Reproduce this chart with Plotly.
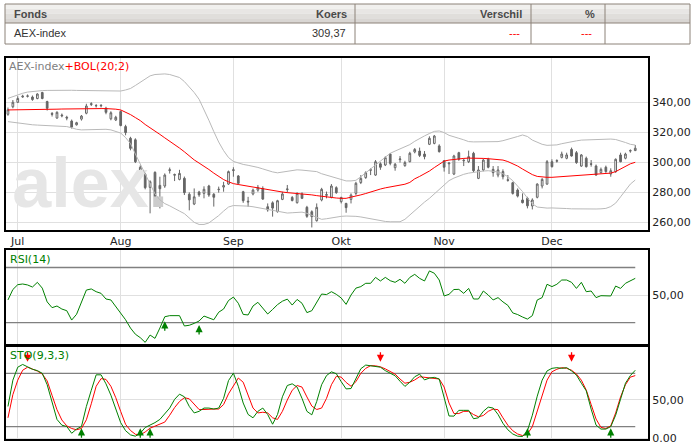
import plotly.graph_objects as go

# ---------------- data ----------------
month_labels = ["Jul", "Aug", "Sep", "Okt", "Nov", "Dec"]
month_start_idx = [2, 23, 46, 68, 89, 111]

open_ = [332.0, 337.0, 340.0, 343.5, 344.0, 343.5, 342.5, 346.5, 340.5, 332.5,
         329.5, 331.5, 330.0, 327.5, 325.0, 328.8, 332.7, 338.5, 337.6, 337.6,
         336.0, 329.0, 328.2, 333.8, 323.8, 316.0, 315.0, 292.6, 292.0, 283.3,
         293.3, 284.6, 284.2, 294.5, 291.8, 288.6, 289.3, 278.7, 272.2, 280.2,
         279.3, 284.2, 278.7, 281.8, 283.5, 285.5, 294.5, 290.9, 280.4, 273.5,
         278.9, 281.5, 282.6, 270.4, 273.0, 267.1, 275.3, 281.8, 276.6, 273.1,
         278.9, 270.0, 267.1, 261.1, 274.9, 278.0, 276.7, 283.1, 273.8, 272.6,
         275.3, 279.3, 286.5, 289.8, 294.7, 291.5, 299.0, 298.2, 305.5, 296.4,
         301.8, 297.8, 300.4, 306.9, 307.5, 305.5, 312.0, 312.6, 310.9, 301.1,
         299.0, 292.2, 306.4, 301.0, 300.4, 306.0, 289.3, 294.9, 302.0, 295.3,
         291.5, 293.8, 288.4, 286.4, 281.5, 274.9, 276.0, 270.9, 276.7, 284.2,
         285.5, 300.4, 300.7, 303.3, 302.7, 308.6, 306.4, 297.5, 302.7, 299.0,
         297.5, 293.1, 296.7, 292.2, 293.8, 304.9, 302.7, 307.5, 307.8]
high = [336.5, 341.5, 344.0, 345.0, 345.2, 344.5, 346.0, 347.0, 341.0, 333.5,
        334.0, 332.5, 331.0, 328.5, 327.0, 331.5, 339.0, 340.0, 338.8, 338.8,
        337.0, 334.0, 331.0, 334.5, 325.0, 317.0, 316.0, 298.0, 293.0, 288.0,
        294.0, 290.4, 292.6, 296.5, 292.5, 295.0, 290.5, 280.0, 282.6, 281.0,
        284.0, 285.0, 279.5, 283.8, 287.0, 294.5, 296.7, 291.5, 281.0, 277.0,
        282.5, 284.9, 284.0, 272.6, 274.0, 275.0, 280.4, 284.9, 277.5, 280.0,
        280.0, 271.0, 268.0, 272.6, 283.0, 280.5, 285.5, 284.0, 277.0, 273.0,
        279.3, 287.0, 291.5, 294.0, 296.0, 301.5, 300.0, 304.0, 306.0, 299.5,
        304.2, 301.0, 307.0, 309.5, 309.8, 307.5, 317.3, 318.2, 312.0, 301.5,
        300.0, 305.0, 307.0, 302.6, 307.8, 307.0, 297.5, 302.5, 303.0, 297.5,
        297.5, 295.3, 291.5, 287.0, 282.6, 279.3, 277.0, 276.0, 286.0, 289.5,
        301.5, 302.0, 302.0, 307.1, 306.4, 309.8, 307.5, 305.5, 303.8, 301.5,
        298.5, 296.5, 297.8, 296.0, 302.6, 306.4, 306.4, 308.6, 311.5]
low = [331.0, 336.0, 339.5, 343.0, 343.2, 341.0, 342.0, 342.0, 334.5, 330.5,
       329.0, 330.0, 328.0, 322.5, 324.5, 327.8, 332.0, 337.5, 336.5, 336.6,
       332.0, 328.0, 327.5, 324.0, 318.0, 308.0, 299.5, 292.0, 282.0, 266.0,
       275.0, 269.3, 283.0, 292.5, 287.5, 288.0, 278.2, 268.0, 271.5, 277.0,
       276.0, 277.0, 270.5, 279.8, 280.4, 285.0, 290.4, 285.0, 273.0, 270.4,
       278.0, 280.4, 275.0, 267.1, 263.8, 266.5, 274.8, 279.8, 274.0, 272.5,
       275.5, 263.0, 256.6, 260.5, 274.0, 276.0, 276.0, 279.0, 272.6, 266.4,
       272.6, 278.0, 285.5, 289.0, 291.5, 291.0, 295.0, 297.5, 298.0, 294.4,
       299.8, 297.0, 300.0, 306.0, 303.5, 302.0, 311.5, 312.0, 306.5, 293.8,
       292.2, 291.5, 301.0, 297.5, 299.5, 293.5, 288.8, 294.0, 296.0, 290.4,
       290.0, 288.6, 287.1, 278.5, 276.6, 272.6, 269.3, 268.6, 276.0, 282.6,
       285.0, 296.5, 299.8, 302.6, 302.0, 303.8, 299.0, 297.0, 296.5, 297.1,
       291.0, 292.6, 293.0, 290.4, 293.0, 300.0, 302.0, 306.4, 307.5]
close = [335.0, 340.0, 342.5, 344.0, 344.2, 341.8, 345.5, 342.5, 336.0, 332.0,
         333.3, 331.0, 329.5, 323.5, 326.4, 330.8, 337.5, 339.0, 337.8, 337.9,
         333.3, 333.0, 330.0, 324.5, 319.8, 309.3, 300.4, 296.7, 283.1, 287.1,
         277.1, 282.4, 291.5, 295.0, 291.5, 292.6, 279.8, 275.0, 277.0, 278.3,
         282.0, 278.2, 276.7, 282.0, 284.5, 293.8, 295.0, 286.0, 274.4, 274.0,
         281.5, 283.3, 275.5, 268.3, 269.5, 274.4, 278.9, 282.2, 274.5, 279.3,
         276.0, 264.0, 263.8, 270.0, 282.0, 278.5, 284.2, 279.8, 276.6, 269.8,
         278.2, 286.0, 289.3, 293.1, 295.0, 300.4, 296.7, 303.1, 299.3, 298.7,
         302.2, 299.8, 306.0, 308.6, 304.6, 303.8, 316.0, 317.5, 307.1, 296.7,
         299.5, 304.2, 302.0, 301.3, 303.8, 294.4, 294.9, 301.5, 296.7, 293.1,
         294.9, 290.4, 288.0, 279.3, 277.5, 273.1, 271.0, 274.9, 285.5, 288.6,
         300.4, 297.1, 301.1, 305.5, 304.9, 304.2, 299.8, 304.9, 297.1, 298.7,
         291.5, 295.3, 293.8, 294.4, 302.0, 300.4, 305.5, 307.8, 309.37]

bol_mid = [334.9, 334.9, 335.0, 335.0, 335.1, 335.2, 335.3, 335.3, 335.4, 335.4, 335.4,
           335.5, 335.6, 335.7, 335.8, 335.8, 335.8, 335.8, 335.8, 335.8, 335.8, 335.7, 335.4,
           334.9, 333.5, 331.8, 329.8, 327.8, 325.2, 322.8, 320.5, 318.6, 316.3, 314.2,
           312.0, 309.5, 307.0, 304.2, 301.6, 299.5, 297.5, 295.2, 292.8, 290.5, 288.5, 287.0, 285.8, 285.2,
           284.6, 284.2, 283.8, 283.2, 282.6, 282.0, 281.4, 280.8, 280.2, 279.8, 279.6, 279.4, 279.2, 278.8,
           278.3, 277.8, 277.3,
           276.9, 276.5, 276.2, 276.0, 276.0, 276.8, 277.4, 278.3, 279.2, 280.2, 281.6, 282.2, 283.0, 283.6,
           284.2, 284.8, 285.4, 286.6, 289.0, 290.6, 292.2, 294.2, 296.5, 298.8,
           300.8, 301.5, 302.0, 302.4, 302.6, 302.8, 302.9, 302.8, 302.6, 302.4,
           302.1, 301.8, 301.5, 300.5, 299.2, 297.5, 295.5, 293.5, 291.8, 290.6, 290.2, 290.0,
           290.0, 290.2, 290.6, 290.9, 291.1, 291.3, 291.5, 291.6, 291.8, 292.0, 292.2, 292.4, 292.8,
           293.8, 295.5, 297.3, 299.0, 300.0]
bol_upper = [342.6, 343.8, 345.0, 346.0, 346.8, 347.3, 347.6, 347.8, 347.9, 348.0, 348.0, 348.0,
             348.0, 348.0, 347.9, 347.8, 347.7, 347.6, 347.5, 347.5, 347.4, 347.4, 347.4, 347.5,
             348.2, 349.2, 351.2, 353.2, 355.4, 357.6, 358.5, 358.9, 358.9, 358.5, 357.6, 356.5,
             353.8, 350.5, 346.5, 342.0, 335.5, 328.0, 320.5, 313.5, 307.8, 303.2, 300.6, 299.4,
             298.6, 298.0, 297.4, 296.6, 295.6, 294.4, 293.6, 293.0, 293.4, 294.0, 294.6, 295.0,
             294.8, 294.6, 294.4, 293.8, 292.4, 291.4, 290.6, 289.6, 288.6, 287.6, 287.6, 288.0,
             290.4, 293.0, 295.6, 298.2, 301.0, 304.0, 306.0, 307.5, 309.0, 310.2, 311.8, 314.0,
             316.0, 317.6, 319.2, 320.6, 320.9, 319.8, 318.0, 316.8, 316.0, 315.0, 313.8, 313.6,
             313.6, 313.6, 313.6, 313.6, 313.8, 314.4, 315.2, 316.2, 317.2, 318.2, 317.2, 314.8,
             313.2, 312.0, 311.3, 311.2, 311.6, 312.4, 313.2, 313.8, 314.3, 314.8, 315.0, 315.1,
             315.2, 315.3, 315.4, 315.5, 315.2, 314.4, 313.2, 312.0, 311.5]
bol_lower = [327.1, 326.6, 326.1, 325.7, 325.3, 325.0, 324.8, 324.6, 324.4, 324.2, 324.0, 323.9,
             323.8, 323.0, 322.0, 321.6, 321.7, 321.9, 322.1, 322.2, 322.0, 321.6, 320.8, 319.5,
             316.5, 312.5, 305.5, 299.0, 292.0, 285.0, 279.0, 275.0, 272.5, 271.0, 269.5, 267.5,
             265.8, 263.0, 260.0, 258.6, 258.6, 259.6, 262.0, 264.5, 267.5, 270.2, 271.2, 271.2,
             271.0, 270.8, 270.4, 269.8, 269.0, 268.4, 267.8, 267.3, 266.5, 266.2, 266.4, 266.8,
             266.8, 266.0, 264.8, 263.2, 262.0, 262.4, 263.0, 263.6, 264.0, 264.2, 264.2, 264.0,
             263.6, 263.0, 262.4, 261.6, 261.0, 260.6, 260.4, 260.4, 260.4, 262.0, 265.0, 268.0,
             271.0, 273.5, 276.0, 279.0, 282.0, 285.0, 287.8, 289.5, 291.0, 292.0, 292.8, 293.4,
             293.8, 294.2, 294.4, 294.2, 293.6, 292.4, 290.4, 287.8, 284.5, 280.5, 276.2, 272.4,
             270.2, 269.6, 269.5, 269.6, 269.6, 269.4, 269.2, 269.0, 268.9, 268.9, 268.9, 268.9,
             268.9, 269.0, 269.3, 270.5, 272.8, 277.0, 281.5, 285.5, 288.2]

rsi = [46.4, 54.0, 57.5, 58.0, 57.3, 55.8, 59.2, 55.0, 45.0, 40.8,
       42.0, 39.8, 38.6, 31.8, 36.0, 45.0, 53.6, 54.4, 52.4, 51.2,
       47.1, 46.4, 41.5, 36.0, 32.0, 26.0, 21.5, 19.0, 15.6, 20.9,
       18.5, 26.0, 34.2, 35.0, 35.0, 35.0, 27.5, 28.0, 29.4, 31.1,
       34.7, 33.5, 32.0, 37.5, 39.8, 46.0, 48.5, 44.0, 35.9, 35.5,
       42.0, 44.7, 40.0, 36.2, 39.5, 43.0, 45.5, 47.0, 42.7, 46.8,
       44.0, 37.2, 38.6, 44.5, 50.7, 50.3, 52.4, 50.5, 47.8, 43.2,
       50.0, 55.0, 56.1, 58.5, 58.5, 62.8, 60.2, 62.8, 60.4, 59.2,
       61.4, 58.5, 62.8, 65.0, 62.1, 60.2, 67.5, 65.8, 60.9, 49.3,
       50.5, 54.0, 54.1, 51.2, 54.8, 47.1, 47.1, 52.9, 50.0, 46.4,
       48.1, 45.0, 42.5, 37.0, 35.8, 34.0, 32.5, 35.0, 46.4, 48.1,
       57.8, 56.1, 57.8, 60.9, 60.9, 59.2, 54.8, 59.2, 52.4, 52.9,
       48.1, 49.5, 49.3, 49.3, 56.5, 54.8, 58.5, 60.2, 62.1]
rsi_levels = [70, 30]
rsi_buy_idx = [32, 39]
rsi_buy_tip = [30.9, 28.2]

sto_k = [41.5, 76, 93, 96.6, 93.5, 90.3, 88.5, 85, 70, 46,
         24.5, 16.9, 15.2, 6.3, 11.8, 15.2, 41.5, 62.7, 83, 83,
         71.2, 56.3, 39.4, 20.3, 9.7, 4.2, 2.5, 6.3, 13.9, 16.9,
         20.3, 24.5, 32, 39.4, 50.8, 57.6, 54.2, 41.5, 33, 35.1,
         39.4, 39.4, 38.1, 39.4, 52.1, 75.4, 85.2, 68, 46, 31,
         26.6, 35.1, 39.4, 30.9, 18.2, 30.9, 54.2, 69, 71.2, 66.9,
         52.1, 35.1, 30.5, 48, 70, 82, 86.9, 84.5, 74, 64.5,
         65, 78, 91, 95.8, 94.8, 94.5, 93, 88.5, 85, 81.8,
         74.6, 67.8, 73.3, 80.5, 83.9, 76.3, 78.8, 79.7, 77.5, 52,
         29, 28.8, 36.4, 36.4, 36.4, 25.4, 26.6, 35.1, 40.6, 39.4,
         31, 19.4, 10.9, 5.4, 2.5, 2.1, 9.7, 30, 55, 76,
         88.1, 91.5, 92.4, 91.5, 92.4, 88.1, 82.6, 72, 62, 38,
         17, 11.8, 11.8, 15, 30, 51, 72, 82, 89]
sto_d = [26.6, 57, 76, 89, 93, 91, 88, 84, 75, 56,
         37.2, 23.7, 16, 12.6, 10.9, 12.6, 24, 45, 68, 78,
         77, 68, 53, 35, 18, 10, 5, 4.2, 8, 13,
         16, 18.2, 21, 30, 40, 48, 53, 51.5, 44, 37.5,
         37.5, 38.1, 38.1, 38.1, 44, 58, 69, 78.8, 73.3, 56.3,
         39.4, 33, 33.9, 33, 26.6, 24.5, 35.1, 50, 62.7, 69,
         66.9, 54, 42, 37.5, 39.4, 52.1, 70, 81, 80, 73,
         68, 74, 85, 91.5, 95, 94.8, 93.5, 90.8, 87, 83.9,
         77.5, 72, 73.3, 76.3, 80.5, 79.7, 78.4, 78, 77.5, 67,
         46, 32.2, 32.2, 35.1, 35.1, 30.9, 27.9, 29.6, 35.1, 38.1,
         37.2, 26.6, 16.9, 9.7, 5.4, 3.3, 5.4, 15, 35, 58,
         76, 87, 90.3, 92.4, 91.5, 89, 84, 76, 63, 44,
         25, 14, 12.6, 16, 33, 54, 70, 80, 82]
sto_levels = [85, 15]
sto_buy_idx = [15, 27, 29, 106, 123]
sto_buy_tip = 12.8
sto_sell_idx = [4, 76, 115]
sto_sell_tip = 100.0

table_headers = ["Fonds", "Koers", "Verschil", "%"]
table_row = ["AEX-index", "309,37", "---", "---"]

# ---------------- layout helpers ----------------
W, H = 691, 448
PL, PR = 6, 648
X_RANGE = [-0.4, 130.6]


def px(xp):
    return (xp - PL) / (PR - PL)


def py(yp):
    return 1 - yp / H


FONT = "DejaVu Sans"
GRID = "#e0e0e0"

fig = go.Figure()

idx = list(range(len(close)))

# watermark (drawn first, below everything)
fig.add_trace(go.Scatter(
    x=[0.9], y=[258.6], mode="text",
    text=["alex<span style='color:#cccccc'>.</span>"],
    textposition="top right",
    textfont=dict(family="Liberation Sans", size=70, color="#e6e6e6", weight="bold"),
    hoverinfo="skip", showlegend=False, xaxis="x", yaxis="y"))

for band in (bol_upper, bol_lower):
    fig.add_trace(go.Scatter(x=list(range(len(band))), y=band, mode="lines",
                             line=dict(color="#b9b9b9", width=1),
                             hoverinfo="skip", showlegend=False, xaxis="x", yaxis="y"))
fig.add_trace(go.Scatter(x=list(range(len(bol_mid))), y=bol_mid, mode="lines",
                         line=dict(color="#ff0000", width=1),
                         hoverinfo="skip", showlegend=False, xaxis="x", yaxis="y"))

fig.add_trace(go.Candlestick(
    x=idx, open=open_, high=high, low=low, close=close,
    increasing=dict(line=dict(color="#666666", width=1), fillcolor="#ffffff"),
    decreasing=dict(line=dict(color="#666666", width=1), fillcolor="#666666"),
    whiskerwidth=0, showlegend=False, xaxis="x", yaxis="y"))

last = len(close) - 1

# RSI panel
for lv in rsi_levels:
    fig.add_trace(go.Scatter(x=[X_RANGE[0], last], y=[lv, lv], mode="lines",
                             line=dict(color="#808080", width=1.3),
                             hoverinfo="skip", showlegend=False, xaxis="x2", yaxis="y2"))
fig.add_trace(go.Scatter(x=list(range(len(rsi))), y=rsi, mode="lines",
                         line=dict(color="#008000", width=1),
                         hoverinfo="skip", showlegend=False, xaxis="x2", yaxis="y2"))

# STO panel
for lv in sto_levels:
    fig.add_trace(go.Scatter(x=[X_RANGE[0], last], y=[lv, lv], mode="lines",
                             line=dict(color="#808080", width=1.3),
                             hoverinfo="skip", showlegend=False, xaxis="x3", yaxis="y3"))
fig.add_trace(go.Scatter(x=list(range(len(sto_d))), y=sto_d, mode="lines",
                         line=dict(color="#ff0000", width=1),
                         hoverinfo="skip", showlegend=False, xaxis="x3", yaxis="y3"))
fig.add_trace(go.Scatter(x=list(range(len(sto_k))), y=sto_k, mode="lines",
                         line=dict(color="#008000", width=1),
                         hoverinfo="skip", showlegend=False, xaxis="x3", yaxis="y3"))

annotations = []


def arrow(x, y, xref, yref, color, up):
    return dict(x=x, y=y, xref=xref, yref=yref, ax=0, ay=11 if up else -11,
                text="", showarrow=True, arrowhead=2, arrowsize=1.1,
                arrowwidth=1.3, arrowcolor=color)


for i, t in zip(rsi_buy_idx, rsi_buy_tip):
    annotations.append(arrow(i, t, "x2", "y2", "#008000", True))
for i in sto_buy_idx:
    annotations.append(arrow(i, sto_buy_tip, "x3", "y3", "#008000", True))
for i in sto_sell_idx:
    annotations.append(arrow(i, sto_sell_tip, "x3", "y3", "#ff0000", False))

# panel titles
annotations.append(dict(x=px(7), y=py(66), xref="paper", yref="paper",
                        xanchor="left", yanchor="middle", showarrow=False,
                        text="<span style='color:#808080'>AEX-index</span><span style='color:#ff0000'>+BOL(20;2)</span>",
                        font=dict(family=FONT, size=11)))
annotations.append(dict(x=px(8), y=py(259), xref="paper", yref="paper",
                        xanchor="left", yanchor="middle", showarrow=False,
                        text="RSI(14)", font=dict(family=FONT, size=11, color="#008000")))
annotations.append(dict(x=px(8), y=py(355), xref="paper", yref="paper",
                        xanchor="left", yanchor="middle", showarrow=False,
                        text="STO(9,3,3)", font=dict(family=FONT, size=11, color="#008000")))

# table
shapes = []
TBL_X = [5, 355, 531, 605, 690]
TBL_Y = [4, 23, 44]
BORDER = "#8c8279"
grad = ["#f1f0ee", "#e8e6e4", "#e0dedb", "#d9d6d3"]
step = (TBL_Y[1] - TBL_Y[0]) / len(grad)
for k, c in enumerate(grad):
    shapes.append(dict(type="rect", xref="paper", yref="paper", layer="below",
                       x0=px(TBL_X[0]), x1=px(TBL_X[-1]),
                       y0=py(TBL_Y[0] + k * step), y1=py(TBL_Y[0] + (k + 1) * step),
                       fillcolor=c, line=dict(width=0)))
shapes.append(dict(type="rect", xref="paper", yref="paper",
                   x0=px(TBL_X[0]), x1=px(TBL_X[-1]), y0=py(TBL_Y[0]), y1=py(TBL_Y[2]),
                   line=dict(color=BORDER, width=1)))
shapes.append(dict(type="line", xref="paper", yref="paper",
                   x0=px(TBL_X[0]), x1=px(TBL_X[-1]), y0=py(TBL_Y[1]), y1=py(TBL_Y[1]),
                   line=dict(color=BORDER, width=1)))
for xv in TBL_X[1:-1]:
    shapes.append(dict(type="line", xref="paper", yref="paper",
                       x0=px(xv), x1=px(xv), y0=py(TBL_Y[0]), y1=py(TBL_Y[2]),
                       line=dict(color=BORDER, width=1)))

hdr_pos = [(12, "left"), (349, "right"), (524, "right"), (597, "right")]
row_pos = [(12, "left"), (348, "right"), (522, "right"), (594, "right")]
for txt, (xp, anc) in zip(table_headers, hdr_pos):
    annotations.append(dict(x=px(xp), y=py(13.5), xref="paper", yref="paper",
                            xanchor=anc, yanchor="middle", showarrow=False, text=txt,
                            font=dict(family="Liberation Sans", size=11, color="#4a4a4a", weight="bold")))
for k, (txt, (xp, anc)) in enumerate(zip(table_row, row_pos)):
    annotations.append(dict(x=px(xp), y=py(33.5), xref="paper", yref="paper",
                            xanchor=anc, yanchor="middle", showarrow=False, text=txt,
                            font=dict(family="Liberation Sans", size=11,
                                      color="#ff0000" if k >= 2 else "#333333")))

axis_common = dict(showline=True, mirror=True, linecolor="#000000", linewidth=2,
                   zeroline=False, ticks="", gridcolor=GRID, gridwidth=1,
                   tickfont=dict(family=FONT, size=11, color="#222222"))

fig.update_layout(
    width=W, height=H,
    margin=dict(l=PL, r=W - PR, t=0, b=0, autoexpand=False),
    paper_bgcolor="#ffffff", plot_bgcolor="#ffffff",
    showlegend=False, boxgap=0.5,
    font=dict(family=FONT, size=11, color="#222222"),
    xaxis=dict(domain=[0, 1], range=X_RANGE, anchor="y",
               tickmode="array", tickvals=month_start_idx, ticktext=month_labels,
               showgrid=True, rangeslider=dict(visible=False), **axis_common),
    xaxis2=dict(domain=[0, 1], range=X_RANGE, anchor="y2", matches="x",
                tickmode="array", tickvals=month_start_idx, showticklabels=False,
                showgrid=True, **axis_common),
    xaxis3=dict(domain=[0, 1], range=X_RANGE, anchor="y3", matches="x",
                tickmode="array", tickvals=month_start_idx, showticklabels=False,
                showgrid=True, **axis_common),
    yaxis=dict(domain=[py(230), py(57.7)], range=[254.9, 369.7], side="right", anchor="x",
               tickmode="array", tickvals=[260, 280, 300, 320, 340],
               ticktext=["260,00", "280,00", "300,00", "320,00", "340,00"],
               showgrid=True, ticklabelstandoff=0, **axis_common),
    yaxis2=dict(domain=[py(344), py(250)], range=[14.4, 82.7], side="right", anchor="x2",
                tickmode="array", tickvals=[50], ticktext=["50,00"],
                showgrid=True, ticklabelstandoff=0, **axis_common),
    yaxis3=dict(domain=[py(439.3), py(346.7)], range=[-1.6, 119.9], side="right", anchor="x3",
                tickmode="array", tickvals=[0, 50], ticktext=["0.00", "50,00"],
                showgrid=True, ticklabelstandoff=0, **axis_common),
    annotations=annotations,
    shapes=shapes,
)

fig.write_html("out.html",
               config={"displayModeBar": False},
               post_script="document.body.style.margin='0';document.body.style.padding='0';")
